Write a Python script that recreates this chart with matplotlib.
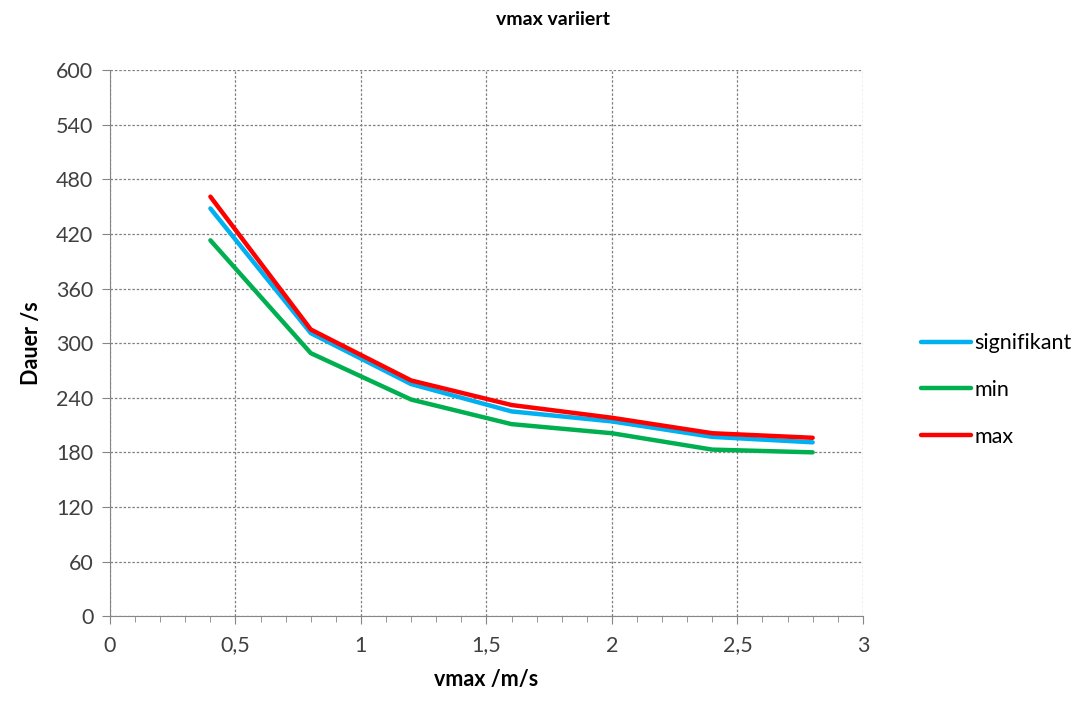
import matplotlib
matplotlib.use("Agg")
import matplotlib.pyplot as plt
from matplotlib.ticker import MultipleLocator, FuncFormatter

plt.rcParams['font.family'] = ['Lato', 'DejaVu Sans']

# data
vmax = [0.4, 0.8, 1.2, 1.6, 2.0, 2.4, 2.8]
signifikant = [448, 311, 255, 225, 214, 197, 191]
minimum = [413, 289, 238, 211, 201, 183, 180]
maximum = [461, 315, 259, 232, 218, 201, 196]

fig = plt.figure(figsize=(10.84, 7.09), dpi=100)
ax = fig.add_axes([0.1015, 0.131, 0.6945, 0.770])

ax.plot(vmax, signifikant, color='#00B0F0', lw=3.2, label='signifikant', solid_capstyle='round')
ax.plot(vmax, minimum, color='#00B050', lw=3.2, label='min', solid_capstyle='round')
ax.plot(vmax, maximum, color='#FF0000', lw=3.2, label='max', solid_capstyle='round')

ax.set_xlim(0, 3)
ax.set_ylim(0, 600)
ax.xaxis.set_major_locator(MultipleLocator(0.5))
ax.xaxis.set_minor_locator(MultipleLocator(0.1))
ax.yaxis.set_major_locator(MultipleLocator(60))
ax.xaxis.set_major_formatter(FuncFormatter(lambda v, p: f'{v:g}'.replace('.', ',')))

ax.grid(True, which='major', color='#808080', linestyle=(0, (2, 1.5)), linewidth=0.9)
for s in ['top', 'right']:
    ax.spines[s].set_visible(False)
for s in ['left', 'bottom']:
    ax.spines[s].set_color('#868686')
ax.tick_params(axis='both', which='both', colors='#868686', labelcolor='#404040', labelsize=15.5)
ax.tick_params(axis='x', which='major', length=6, pad=8)
ax.tick_params(axis='x', which='minor', length=4)
ax.tick_params(axis='y', length=6, pad=6)

ax.set_xlabel('vmax /m/s', fontsize=15.5, fontweight='bold', labelpad=10)
ax.set_ylabel('Dauer /s', fontsize=15.5, fontweight='bold', labelpad=10)
fig.text(0.51, 0.973, 'vmax variiert', ha='center', va='center', fontsize=14, fontweight='bold')

fig.legend(loc='center left', bbox_to_anchor=(0.832, 0.45), frameon=False, fontsize=15.5,
           handlelength=2.3, handletextpad=0.15, labelspacing=1.25)

fig.savefig('out.png', dpi=100)
